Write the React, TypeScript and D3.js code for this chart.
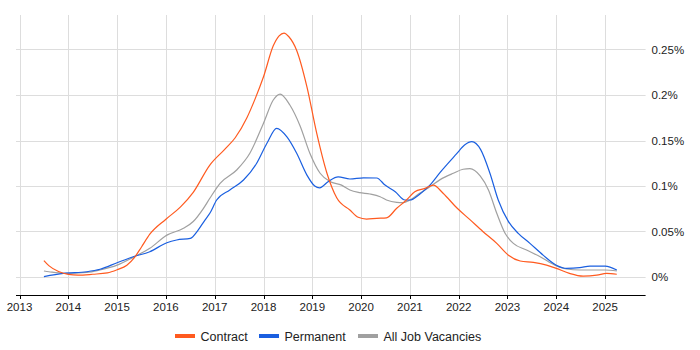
import React, { useEffect, useRef } from 'react';
import { select, scaleLinear, line, curveMonotoneX } from 'd3';

// [decimal year, % of vacancies]
const contract = [
    [2013.5, 0.018], [2013.6, 0.0125], [2013.8, 0.006], [2014.0, 0.0028], [2014.2, 0.002],
    [2014.5, 0.003], [2014.8, 0.0045], [2015.0, 0.008], [2015.2, 0.013], [2015.35, 0.021],
    [2015.5, 0.033], [2015.67, 0.047], [2016.0, 0.0635], [2016.3, 0.077], [2016.56, 0.093],
    [2016.9, 0.123], [2017.2, 0.14], [2017.42, 0.153], [2017.66, 0.175], [2017.83, 0.196],
    [2018.0, 0.22], [2018.2, 0.254], [2018.32, 0.265], [2018.42, 0.268], [2018.52, 0.264],
    [2018.68, 0.249], [2018.89, 0.209], [2019.09, 0.158], [2019.3, 0.114], [2019.5, 0.087],
    [2019.77, 0.0736], [2019.94, 0.0656], [2020.11, 0.0637], [2020.32, 0.0645], [2020.52, 0.065],
    [2020.73, 0.0755], [2020.93, 0.0846], [2021.1, 0.0937], [2021.31, 0.0974], [2021.48, 0.101],
    [2021.68, 0.092], [2021.97, 0.0755], [2022.23, 0.063], [2022.5, 0.0498], [2022.78, 0.037],
    [2023.02, 0.024], [2023.26, 0.0176], [2023.53, 0.016], [2023.8, 0.013], [2024.0, 0.0095],
    [2024.27, 0.004], [2024.55, 0.001], [2024.83, 0.002], [2025.03, 0.004], [2025.24, 0.003]
];

const permanent = [
    [2013.5, 0.0005], [2013.9, 0.004], [2014.38, 0.0058], [2014.65, 0.0085], [2015.0, 0.0157],
    [2015.33, 0.0223], [2015.67, 0.0278], [2016.02, 0.0377], [2016.22, 0.0407], [2016.5, 0.0425],
    [2016.66, 0.0516], [2016.8, 0.0626], [2016.9, 0.07], [2017.04, 0.0846], [2017.31, 0.0956],
    [2017.59, 0.1066], [2017.86, 0.125], [2018.07, 0.147], [2018.27, 0.1634], [2018.48, 0.154],
    [2018.68, 0.136], [2018.89, 0.112], [2019.05, 0.1], [2019.15, 0.098], [2019.33, 0.105],
    [2019.53, 0.11], [2019.77, 0.1077], [2020.05, 0.109], [2020.32, 0.1088], [2020.49, 0.101],
    [2020.7, 0.0937], [2020.9, 0.0846], [2021.0, 0.0846], [2021.2, 0.091], [2021.41, 0.101],
    [2021.62, 0.115], [2021.95, 0.135], [2022.12, 0.145], [2022.27, 0.1487], [2022.45, 0.14],
    [2022.64, 0.114], [2022.81, 0.0846], [2023.02, 0.0608], [2023.22, 0.048], [2023.46, 0.037],
    [2023.73, 0.024], [2024.0, 0.013], [2024.21, 0.0095], [2024.48, 0.0102], [2024.69, 0.012],
    [2025.0, 0.012], [2025.24, 0.0077]
];

const allJobs = [
    [2013.5, 0.0066], [2013.6, 0.0058], [2013.9, 0.004], [2014.38, 0.005], [2014.65, 0.0077],
    [2015.0, 0.013], [2015.33, 0.0216], [2015.67, 0.0315], [2016.02, 0.046], [2016.36, 0.0535],
    [2016.56, 0.061], [2016.77, 0.0755], [2016.9, 0.0865], [2017.11, 0.103], [2017.45, 0.1176],
    [2017.72, 0.136], [2018.0, 0.169], [2018.2, 0.1945], [2018.34, 0.201], [2018.54, 0.189],
    [2018.75, 0.166], [2018.95, 0.136], [2019.16, 0.114], [2019.36, 0.105], [2019.6, 0.101],
    [2019.77, 0.0956], [2019.97, 0.0927], [2020.18, 0.0912], [2020.39, 0.0882], [2020.52, 0.0846],
    [2020.73, 0.082], [2020.86, 0.0817], [2021.0, 0.0846], [2021.2, 0.092], [2021.41, 0.0992],
    [2021.62, 0.107], [2021.89, 0.114], [2022.09, 0.1184], [2022.23, 0.119], [2022.44, 0.111],
    [2022.61, 0.0956], [2022.78, 0.07], [2022.95, 0.048], [2023.12, 0.037], [2023.39, 0.0297],
    [2023.67, 0.0223], [2023.97, 0.013], [2024.21, 0.0088], [2024.48, 0.0077], [2024.83, 0.0077],
    [2025.0, 0.0077], [2025.24, 0.0066]
];

const years = [2013, 2014, 2015, 2016, 2017, 2018, 2019, 2020, 2021, 2022, 2023, 2024, 2025];
const yTicks = [0, 0.05, 0.1, 0.15, 0.2, 0.25];
const yTickLabels = ['0%', '0.05%', '0.1%', '0.15%', '0.2%', '0.25%'];

const series = [
    { name: 'Contract', data: contract, color: '#ff5a1f' },
    { name: 'Permanent', data: permanent, color: '#1a5fe0' },
    { name: 'All Job Vacancies', data: allJobs, color: '#a0a0a0' }
];

const W = 700, H = 350;
const FONT = '"Liberation Sans", Arial, sans-serif';

export default function App() {
    const ref = useRef<SVGSVGElement>(null);

    useEffect(() => {
        const svg = select(ref.current);
        svg.selectAll('*').remove();

        const x = scaleLinear().domain([2012.928, 2025.83]).range([16, 645.6]);
        const y = scaleLinear().domain([-18 / 910, 262 / 910]).range([295, 15]);

        // grid
        svg.append('g').selectAll('line').data(yTicks).enter().append('line')
            .attr('x1', 16).attr('x2', 645.6)
            .attr('y1', d => Math.round(y(d)) + 0.5).attr('y2', d => Math.round(y(d)) + 0.5)
            .attr('stroke', '#dddddd');
        svg.append('g').selectAll('line').data(years).enter().append('line')
            .attr('x1', d => Math.round(x(d)) + 0.5).attr('x2', d => Math.round(x(d)) + 0.5)
            .attr('y1', 15).attr('y2', 295)
            .attr('stroke', '#dddddd');

        // y labels
        svg.append('g').selectAll('text').data(yTicks).enter().append('text')
            .attr('x', 651.5).attr('y', d => y(d) + 4)
            .attr('font-family', FONT).attr('font-size', 11.5).attr('fill', '#222')
            .text((d, i) => yTickLabels[i]);

        // x axis
        svg.append('line')
            .attr('x1', 16).attr('x2', 645.6).attr('y1', 295.5).attr('y2', 295.5)
            .attr('stroke', '#000');
        svg.append('g').selectAll('line').data(years).enter().append('line')
            .attr('x1', d => Math.round(x(d)) + 0.5).attr('x2', d => Math.round(x(d)) + 0.5)
            .attr('y1', 295).attr('y2', 299)
            .attr('stroke', '#000');
        svg.append('g').selectAll('text').data(years).enter().append('text')
            .attr('x', d => x(d)).attr('y', 310.5)
            .attr('text-anchor', 'middle')
            .attr('font-family', FONT).attr('font-size', 11.5).attr('fill', '#222')
            .text(d => d);

        // lines
        const gen = line<number[]>()
            .x(d => x(d[0]))
            .y(d => y(d[1]))
            .curve(curveMonotoneX);
        series.slice().reverse().forEach(s => {
            svg.append('path')
                .attr('d', gen(s.data))
                .attr('fill', 'none')
                .attr('stroke', s.color)
                .attr('stroke-width', 1.2)
                .attr('stroke-linejoin', 'round');
        });

        // legend
        const legendX = [175, 259, 358];
        series.forEach((s, i) => {
            svg.append('rect')
                .attr('x', legendX[i]).attr('y', 334)
                .attr('width', 20).attr('height', 4)
                .attr('fill', s.color);
            svg.append('text')
                .attr('x', legendX[i] + 25.5).attr('y', 340.5)
                .attr('font-family', FONT).attr('font-size', 12.5).attr('fill', '#222')
                .text(s.name);
        });
    }, []);

    return (
        <div style={{ position: 'absolute', left: 0, top: 0 }}>
            <svg ref={ref} width={W} height={H} style={{ display: 'block', background: '#fff' }} />
        </div>
    );
}
